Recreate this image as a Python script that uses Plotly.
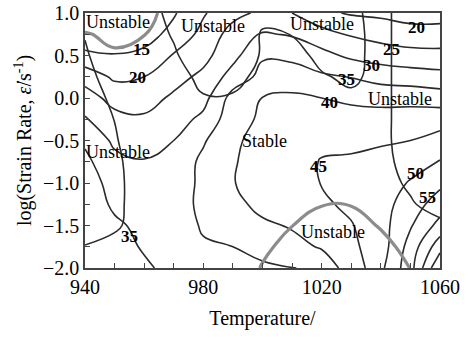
import plotly.graph_objects as go

# Processing map grid: deformation temperature (deg C) and log10 strain rate (1/s)
temperature = [940, 950, 960, 970, 980, 990, 1000, 1010, 1020, 1030, 1040, 1050, 1060]
log_strain_rate = [-2.0, -1.75, -1.5, -1.25, -1.0, -0.75, -0.5, -0.25, 0.0, 0.25, 0.5, 0.75, 1.0]

# Power dissipation efficiency (%), one row per strain rate from -2.0 up to 1.0
efficiency = [
    [38.0, 37.5, 35.8, 33.5, 32.5, 33.0, 34.0, 34.5, 38.0, 41.5, 48.9, 58.0, 75.0],
    [38.0, 37.0, 34.5, 33.0, 34.5, 35.0, 37.0, 39.0, 40.3, 44.0, 47.5, 57.0, 68.0],
    [38.0, 35.7, 34.0, 32.5, 35.5, 38.5, 39.4, 40.3, 42.5, 44.7, 48.0, 54.5, 61.7],
    [37.5, 34.3, 32.5, 33.0, 36.0, 39.0, 41.0, 43.0, 44.2, 46.0, 48.0, 52.5, 57.4],
    [37.0, 33.5, 31.5, 32.5, 36.0, 39.7, 43.0, 44.0, 45.1, 46.0, 47.5, 50.4, 53.9],
    [36.2, 31.4, 30.3, 32.0, 36.0, 39.5, 42.5, 43.5, 45.2, 45.3, 46.5, 48.0, 50.3],
    [34.2, 29.0, 28.0, 30.0, 34.5, 39.0, 42.0, 43.0, 44.2, 44.5, 44.4, 45.0, 46.7],
    [30.5, 26.5, 25.7, 27.8, 31.2, 38.0, 40.8, 41.5, 41.5, 41.6, 41.8, 42.4, 43.0],
    [27.2, 23.3, 23.1, 25.8, 28.3, 37.0, 40.1, 41.0, 40.0, 39.2, 38.6, 38.3, 37.5],
    [23.1, 19.1, 20.0, 23.3, 26.1, 32.0, 36.4, 37.0, 35.8, 34.8, 33.0, 32.4, 31.7],
    [16.3, 15.3, 16.2, 20.4, 23.5, 28.5, 34.5, 34.0, 31.5, 29.0, 27.8, 26.8, 26.5],
    [11.0, 11.5, 13.0, 16.5, 21.5, 27.0, 30.5, 29.5, 27.0, 24.5, 23.0, 22.0, 22.0],
    [9.0, 10.0, 12.5, 14.5, 19.5, 23.5, 26.0, 25.0, 21.0, 19.5, 19.0, 18.0, 18.0],
]

# Instability parameter, boundaries drawn in dark lines (negative = unstable)
xi_dark = [
    [1.0, 1.0, 1.0, 1.0, 1.0, 1.0, 1.0, 1.0, 1.0, 1.0, 1.0, 1.0, 1.0],
    [0.09, 0.5, 1.0, 1.0, 1.0, 1.0, 1.0, 1.0, 1.0, 1.0, 1.0, 1.0, 1.0],
    [-1.0, -0.25, 0.75, 1.0, 1.0, 1.0, 1.0, 1.0, 1.0, 1.0, 1.0, 0.8, 0.45],
    [-1.0, -0.3, 0.62, 1.0, 1.0, 1.0, 1.0, 1.0, 1.0, 1.0, 1.0, 0.2, -0.8],
    [-1.0, -0.3, 0.6, 1.0, 1.0, 1.0, 1.0, 1.0, 1.0, 1.0, 0.7, -0.3, -0.8],
    [-1.0, -0.25, 0.65, 1.0, 1.0, 1.0, 1.0, 1.0, 1.0, 1.0, 0.5, -0.61, -1.0],
    [-1.0, -0.1, 0.7, 1.0, 1.0, 1.0, 1.0, 1.0, 1.0, 1.0, 0.5, -0.89, -1.0],
    [-0.8, 0.02, 1.0, 1.0, 1.0, 1.0, 1.0, 1.0, 1.0, 1.0, 0.5, -0.89, -1.0],
    [-0.6, 0.26, 1.0, 0.8, 0.1, 0.1, 0.6, 0.8, 0.5, 0.28, 0.5, -0.89, -1.0],
    [-0.4, 0.6, 1.0, 0.6, -0.4, -0.3, 0.28, 0.8, 0.15, -0.3, 0.5, -0.89, -1.0],
    [-0.15, 0.85, 1.0, 0.2, -1.0, -0.7, 0.1, 0.6, -0.43, -0.3, 0.36, -0.64, -1.0],
    [0.06, 1.0, 0.8, -0.14, -0.8, -0.9, 0.1, -0.02, -0.6, -0.3, 0.36, -0.64, -1.0],
    [1.0, 1.0, 0.6, -0.4, -1.0, -0.8, -0.3, -0.8, -1.0, -0.22, 0.36, -0.64, -1.0],
]

# Instability parameter, zero boundary drawn in grey
xi_grey = [
    [1.0, 1.0, 1.0, 1.0, 1.0, 1.0, -0.1, -0.6, -1.0, -1.0, -1.0, 0.03, 1.0],
    [1.0, 1.0, 1.0, 1.0, 1.0, 1.0, 0.3, -0.5, -0.8, -0.8, -0.4, 0.4, 1.0],
    [1.0, 1.0, 1.0, 1.0, 1.0, 1.0, 0.8, 0.02, -0.5, -0.5, 0.1, 1.0, 1.0],
    [1.0, 1.0, 1.0, 1.0, 1.0, 1.0, 1.0, 0.6, 0.05, 0.05, 0.6, 1.0, 1.0],
    [1.0, 1.0, 1.0, 1.0, 1.0, 1.0, 1.0, 1.0, 1.0, 1.0, 1.0, 1.0, 1.0],
    [1.0, 1.0, 1.0, 1.0, 1.0, 1.0, 1.0, 1.0, 1.0, 1.0, 1.0, 1.0, 1.0],
    [1.0, 1.0, 1.0, 1.0, 1.0, 1.0, 1.0, 1.0, 1.0, 1.0, 1.0, 1.0, 1.0],
    [1.0, 1.0, 1.0, 1.0, 1.0, 1.0, 1.0, 1.0, 1.0, 1.0, 1.0, 1.0, 1.0],
    [1.0, 1.0, 1.0, 1.0, 1.0, 1.0, 1.0, 1.0, 1.0, 1.0, 1.0, 1.0, 1.0],
    [1.0, 1.0, 1.0, 1.0, 1.0, 1.0, 1.0, 1.0, 1.0, 1.0, 1.0, 1.0, 1.0],
    [0.6, 0.17, 0.6, 1.0, 1.0, 1.0, 1.0, 1.0, 1.0, 1.0, 1.0, 1.0, 1.0],
    [0.1, -0.3, -0.05, 1.0, 1.0, 1.0, 1.0, 1.0, 1.0, 1.0, 1.0, 1.0, 1.0],
    [-1.0, -0.8, -0.5, 0.6, 1.0, 1.0, 1.0, 1.0, 1.0, 1.0, 1.0, 1.0, 1.0],
]

# Efficiency contour labels: (value, temperature, log strain rate)
efficiency_labels = [
    (15, 959.1, 0.576),
    (20, 957.9, 0.247),
    (35, 954.9, -1.635),
    (20, 1052.1, 0.835),
    (25, 1043.6, 0.565),
    (30, 1036.9, 0.388),
    (35, 1028.4, 0.212),
    (40, 1022.7, -0.047),
    (45, 1019.0, -0.81),
    (50, 1051.7, -0.894),
    (55, 1055.8, -1.165),
]

# Domain labels: (text, temperature, log strain rate)
domain_labels = [
    ("Unstable", 951.0, 0.90),
    ("Unstable", 983.4, 0.853),
    ("Unstable", 1020.2, 0.865),
    ("Unstable", 1046.5, -0.006),
    ("Unstable", 951.3, -0.63),
    ("Stable", 1000.6, -0.50),
    ("Unstable", 1023.9, -1.58),
]

SERIF = "Liberation Serif, Times New Roman, serif"
DARK = "#2b2b2b"
GREY = "#8c8c8c"

fig = go.Figure()

fig.add_trace(go.Contour(
    x=temperature, y=log_strain_rate, z=efficiency,
    autocontour=False,
    contours=dict(start=15, end=70, size=5, coloring="none", showlabels=False),
    line=dict(color=DARK, width=1.6, smoothing=1.3),
    showscale=False, hoverinfo="skip",
))

fig.add_trace(go.Contour(
    x=temperature, y=log_strain_rate, z=xi_dark,
    autocontour=False,
    contours=dict(start=0, end=0, size=1, coloring="none", showlabels=False),
    line=dict(color=DARK, width=1.6, smoothing=1.3),
    showscale=False, hoverinfo="skip",
))

fig.add_trace(go.Contour(
    x=temperature, y=log_strain_rate, z=xi_grey,
    autocontour=False,
    contours=dict(start=0, end=0, size=1, coloring="none", showlabels=False),
    line=dict(color=GREY, width=3.2, smoothing=1.3),
    showscale=False, hoverinfo="skip",
))

annotations = []
for value, t, r in efficiency_labels:
    annotations.append(dict(
        x=t, y=r, xref="x", yref="y", text=f"<b>{value}</b>", showarrow=False,
        xanchor="center", yanchor="middle",
        font=dict(family=SERIF, size=17, color="black"),
    ))
for text, t, r in domain_labels:
    annotations.append(dict(
        x=t, y=r, xref="x", yref="y", text=text, showarrow=False,
        xanchor="center", yanchor="middle",
        font=dict(family=SERIF, size=18, color="black"),
    ))

axis_common = dict(
    showline=True, linecolor="#444444", linewidth=1.6, mirror=True,
    ticks="inside", ticklen=5, tickwidth=1.2, tickcolor="#444444",
    showgrid=False, zeroline=False, automargin=False,
    tickfont=dict(family=SERIF, size=20, color="black"),
)

fig.update_layout(
    width=468, height=338,
    margin=dict(l=85, r=28, t=13, b=70),
    paper_bgcolor="white", plot_bgcolor="white",
    showlegend=False,
    annotations=annotations,
    xaxis=dict(
        range=[940, 1060], tickvals=[940, 980, 1020, 1060],
        minor=dict(dtick=10, ticks="inside", ticklen=5, tickcolor="#444444", tickwidth=1.2),
        title=dict(text="Temperature/", font=dict(family=SERIF, size=20, color="black"), standoff=14),
        **axis_common,
    ),
    yaxis=dict(
        range=[-2.0, 1.0], dtick=0.5, tickformat=".1f",
        minor=dict(dtick=0.25, ticks="inside", ticklen=5, tickcolor="#444444", tickwidth=1.2),
        title=dict(text="log(Strain Rate, <i>ε̇</i>/s<sup>-1</sup>)",
                   font=dict(family=SERIF, size=20, color="black"), standoff=6),
        **axis_common,
    ),
)

fig.write_html("out.html")
